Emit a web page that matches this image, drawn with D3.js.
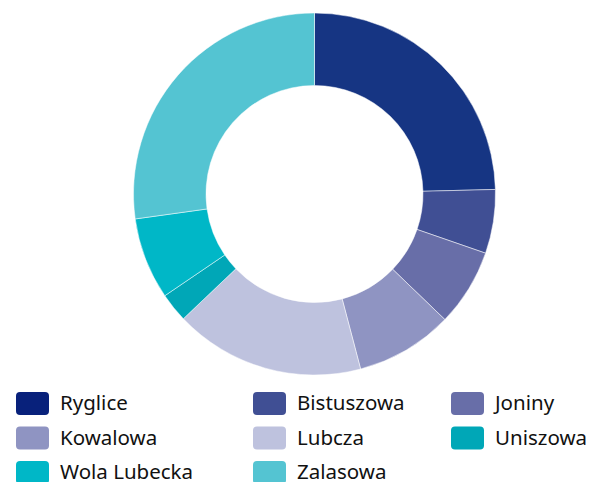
<!DOCTYPE html>
<html>
<head>
<meta charset="utf-8">
<script src="https://cdn.jsdelivr.net/npm/d3@7"></script>
<style>
  body { margin: 0; background: #fff; }
  svg { display: block; font-family: "Noto Sans", sans-serif; }
</style>
</head>
<body>
<svg id="chart" width="601" height="482"></svg>
<script>
// data (share of the whole, %)
const names = ["Ryglice", "Bistuszowa", "Joniny", "Kowalowa", "Lubcza", "Uniszowa", "Wola Lubecka", "Zalasowa"];
const values = [24.6, 5.7, 6.9, 8.7, 17.0, 2.6, 7.3, 27.2];
const colors = ["#163583", "#404f94", "#686ea8", "#8f94c2", "#bec2de", "#00a7b7", "#00b7c7", "#54c4d2"];
// the legend swatch for the first item is a touch darker than its slice
const swatchColors = ["#08217b", "#404f94", "#686ea8", "#8f94c2", "#bec2de", "#00a7b7", "#00b7c7", "#54c4d2"];

const svg = d3.select("#chart");

const cx = 314.5, cy = 194;
const outerR = 181, innerR = 108.5;

const pie = d3.pie().sort(null).value(d => d.value);
const arc = d3.arc().innerRadius(innerR).outerRadius(outerR);

const data = names.map((n, i) => ({ name: n, value: values[i] }));

const g = svg.append("g")
    .attr("transform", `translate(${cx},${cy})`);

g.selectAll("path")
    .data(pie(data))
    .join("path")
    .attr("d", arc)
    .attr("fill", (d, i) => colors[i])
    .attr("stroke", "#fff")
    .attr("stroke-width", 0.5);

// legend, 3 columns
const colX = [16, 253, 451];
const rowY = [392, 426.5, 461];

const legend = svg.append("g");
const item = legend.selectAll("g")
    .data(data)
    .join("g")
    .attr("transform", (d, i) => `translate(${colX[i % 3]},${rowY[Math.floor(i / 3)]})`);

item.append("rect")
    .attr("width", 33)
    .attr("height", 23)
    .attr("rx", 4)
    .attr("fill", (d, i) => swatchColors[i]);

item.append("text")
    .attr("x", 44)
    .attr("y", 18)
    .attr("font-size", 20.5)
    .attr("fill", "#111")
    .text(d => d.name);
</script>
</body>
</html>
